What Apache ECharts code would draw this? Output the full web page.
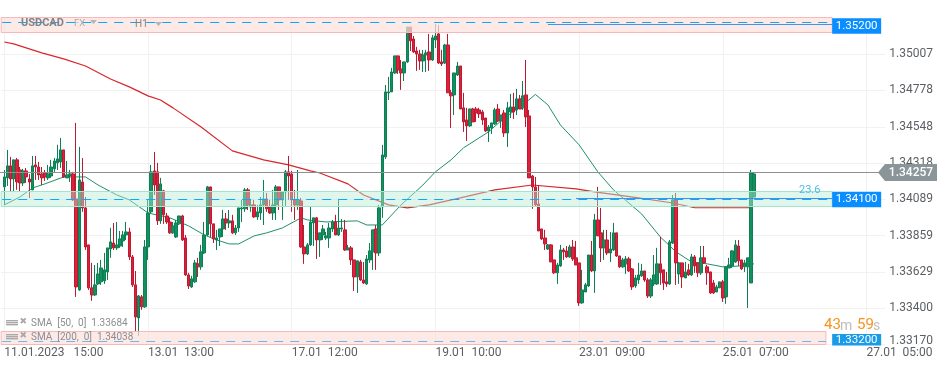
<!DOCTYPE html>
<html><head><meta charset="utf-8">
<script src="https://cdn.jsdelivr.net/npm/echarts@6/dist/echarts.min.js"></script>
<style>html,body{margin:0;padding:0;background:#fff}#c{width:949px;height:370px}</style>
</head><body><div id="c"></div>
<script>
const opens=[
1.34168,1.34225,1.34301,1.34218,1.34339,1.34275,1.34193,1.34269,1.34218,1.34149,
1.34307,1.34294,1.34250,1.34256,1.34225,1.34237,1.34282,1.34320,1.34326,1.34402,
1.34225,1.34237,1.34250,1.34092,1.33516,1.34199,1.34035,1.33801,1.33529,1.33484,
1.33554,1.33567,1.33573,1.33630,1.33775,1.33813,1.33782,1.33794,1.33826,1.33864,
1.33883,1.33725,1.33548,1.33339,1.33472,1.33409,1.33788,1.34010,1.34269,1.34263,
1.33953,1.34143,1.33984,1.33946,1.33877,1.33851,1.33934,1.33984,1.33845,1.33611,
1.33535,1.33567,1.33681,1.33662,1.33750,1.33864,1.34168,1.33934,1.33832,1.33851,
1.33902,1.33965,1.33940,1.33953,1.33877,1.33908,1.34029,1.34029,1.34149,1.34041,
1.34054,1.33978,1.34003,1.34054,1.34092,1.34041,1.34003,1.34054,1.34168,1.34086,
1.34136,1.34263,1.34250,1.34086,1.34054,1.34079,1.33788,1.33744,1.33801,1.33940,
1.33972,1.33832,1.33864,1.33845,1.33845,1.33902,1.33946,1.33864,1.33902,1.33896,
1.33769,1.33782,1.33706,1.33598,1.33693,1.33579,1.33554,1.33706,1.33757,1.33902,
1.33750,1.34041,1.34358,1.34763,1.34769,1.34889,1.34997,1.34914,1.34889,1.34959,
1.35180,1.35104,1.35028,1.35009,1.34965,1.35003,1.35022,1.34971,1.35098,1.35136,
1.34959,1.34952,1.35066,1.34763,1.34750,1.34876,1.34933,1.34668,1.34592,1.34554,
1.34661,1.34661,1.34655,1.34642,1.34604,1.34522,1.34541,1.34566,1.34661,1.34585,
1.34636,1.34509,1.34642,1.34674,1.34655,1.34725,1.34668,1.34750,1.34617,1.34237,
1.34168,1.34060,1.33902,1.33845,1.33775,1.33801,1.33706,1.33624,1.33668,1.33769,
1.33763,1.33725,1.33788,1.33719,1.33687,1.33434,1.33503,1.33541,1.33737,1.33636,
1.33959,1.33877,1.33782,1.33832,1.33750,1.33769,1.33877,1.33731,1.33662,1.33681,
1.33712,1.33649,1.33541,1.33579,1.33605,1.33636,1.33579,1.33478,1.33554,1.33554,
1.33681,1.33643,1.33567,1.33554,1.33813,1.34086,1.33617,1.33687,1.33592,1.33643,
1.33611,1.33725,1.33687,1.33624,1.33719,1.33662,1.33630,1.33560,1.33503,1.33529,
1.33567,1.33472,1.33655,1.33668,1.33693,1.33794,1.33706,1.33662,1.33662,1.33560,1.34104];
const closes=[
1.34231,1.34301,1.34218,1.34339,1.34199,1.34193,1.34269,1.34231,1.34199,1.34301,
1.34294,1.34244,1.34225,1.34231,1.34250,1.34294,1.34332,1.34345,1.34402,1.34231,
1.34244,1.34250,1.34086,1.33535,1.34212,1.34035,1.33788,1.33529,1.33484,1.33548,
1.33617,1.33655,1.33643,1.33782,1.33820,1.33782,1.33801,1.33839,1.33864,1.33883,
1.33725,1.33548,1.33345,1.33478,1.33409,1.33788,1.34003,1.34263,1.34180,1.33953,
1.34187,1.33991,1.33946,1.33877,1.33921,1.33940,1.33984,1.33832,1.33611,1.33541,
1.33586,1.33687,1.33662,1.33757,1.33864,1.34168,1.33934,1.33839,1.33845,1.33902,
1.33965,1.33940,1.33953,1.33877,1.33908,1.34035,1.34035,1.34149,1.34054,1.34054,
1.33978,1.34010,1.34054,1.34092,1.34029,1.34003,1.34054,1.34168,1.34086,1.34136,
1.34263,1.34237,1.34086,1.34054,1.34086,1.33788,1.33744,1.33801,1.33946,1.33972,
1.33832,1.33877,1.33902,1.33858,1.33908,1.33946,1.33864,1.33908,1.33908,1.33769,
1.33782,1.33706,1.33598,1.33700,1.33579,1.33560,1.33712,1.33763,1.33896,1.33750,
1.34035,1.34370,1.34769,1.34769,1.34895,1.34997,1.34908,1.34889,1.34959,1.35180,
1.35092,1.35022,1.35009,1.34965,1.35003,1.35016,1.34971,1.35111,1.35123,1.34952,
1.34946,1.35066,1.34763,1.34744,1.34889,1.34933,1.34661,1.34579,1.34554,1.34661,
1.34579,1.34636,1.34630,1.34592,1.34522,1.34547,1.34573,1.34655,1.34585,1.34623,
1.34509,1.34668,1.34674,1.34642,1.34725,1.34661,1.34744,1.34611,1.34225,1.34168,
1.34054,1.33889,1.33839,1.33807,1.33801,1.33693,1.33624,1.33674,1.33769,1.33757,
1.33725,1.33788,1.33712,1.33674,1.33434,1.33516,1.33548,1.33737,1.33636,1.33959,
1.33858,1.33782,1.33832,1.33750,1.33775,1.33877,1.33731,1.33662,1.33706,1.33712,
1.33636,1.33535,1.33592,1.33611,1.33636,1.33579,1.33478,1.33579,1.33611,1.33681,
1.33624,1.33560,1.33554,1.33820,1.34086,1.33687,1.33687,1.33598,1.33630,1.33611,
1.33725,1.33668,1.33624,1.33719,1.33687,1.33624,1.33497,1.33497,1.33535,1.33567,
1.33465,1.33662,1.33674,1.33763,1.33801,1.33700,1.33649,1.33687,1.33719,1.34256,1.34250];
const highs=[
1.34275,1.34402,1.34358,1.34339,1.34351,1.34294,1.34282,1.34288,1.34250,1.34364,
1.34364,1.34326,1.34294,1.34275,1.34307,1.34339,1.34351,1.34434,1.34478,1.34402,
1.34332,1.34275,1.34263,1.34573,1.34421,1.34351,1.34104,1.33801,1.33687,1.33674,
1.33687,1.33706,1.33750,1.33782,1.33909,1.33940,1.33946,1.33889,1.33889,1.33946,
1.33909,1.33737,1.33636,1.33484,1.33484,1.33832,1.34086,1.34307,1.34389,1.34320,
1.34225,1.34149,1.34003,1.33972,1.33946,1.33959,1.33984,1.33991,1.33864,1.33624,
1.33605,1.33706,1.33719,1.33801,1.33946,1.34174,1.34168,1.33934,1.33896,1.33902,
1.34022,1.34003,1.34022,1.33991,1.33927,1.34035,1.34086,1.34161,1.34161,1.34086,
1.34086,1.34054,1.34104,1.34212,1.34130,1.34086,1.34149,1.34180,1.34168,1.34136,
1.34275,1.34364,1.34269,1.34149,1.34275,1.34098,1.33927,1.33813,1.34041,1.33972,
1.33978,1.33877,1.33927,1.33883,1.33940,1.33959,1.33991,1.34092,1.33965,1.33959,
1.33801,1.33794,1.33706,1.33700,1.33706,1.33693,1.33737,1.33813,1.33896,1.33927,
1.34054,1.34434,1.34813,1.34864,1.34921,1.34997,1.34997,1.34971,1.34959,1.35180,
1.35180,1.35123,1.35054,1.35035,1.35035,1.35035,1.35136,1.35130,1.35199,1.35193,
1.35035,1.35073,1.35136,1.34782,1.34889,1.34959,1.34933,1.34763,1.34668,1.34661,
1.34668,1.34674,1.34668,1.34655,1.34604,1.34560,1.34573,1.34668,1.34693,1.34623,
1.34655,1.34706,1.34756,1.34763,1.34788,1.34750,1.34838,1.34971,1.34655,1.34244,
1.34231,1.34180,1.33902,1.33896,1.33807,1.33807,1.33706,1.33687,1.33801,1.33782,
1.33794,1.33801,1.33832,1.33826,1.33687,1.33643,1.33560,1.33737,1.33826,1.33997,
1.34168,1.34035,1.33896,1.33896,1.33883,1.33940,1.33877,1.33731,1.33719,1.33731,
1.33725,1.33655,1.33611,1.33687,1.33681,1.33636,1.33592,1.33592,1.33737,1.33782,
1.33851,1.33643,1.33630,1.33832,1.34117,1.34130,1.33693,1.33687,1.33693,1.33681,
1.33744,1.33737,1.33687,1.33794,1.33794,1.33674,1.33630,1.33579,1.33548,1.33567,
1.33579,1.33662,1.33719,1.33769,1.33832,1.33832,1.33706,1.33706,1.33719,1.34275,1.34256];
const lows=[
1.34054,1.34174,1.34136,1.34136,1.34149,1.34136,1.34174,1.34193,1.34098,1.34149,
1.34212,1.34212,1.34180,1.34206,1.34212,1.34225,1.34263,1.34275,1.34288,1.34225,
1.34225,1.34199,1.34079,1.33472,1.33510,1.34010,1.33769,1.33516,1.33447,1.33478,
1.33548,1.33548,1.33554,1.33579,1.33719,1.33769,1.33769,1.33782,1.33788,1.33832,
1.33706,1.33535,1.33250,1.33225,1.33390,1.33402,1.33706,1.34003,1.34117,1.33927,
1.33934,1.33934,1.33934,1.33870,1.33870,1.33845,1.33927,1.33826,1.33605,1.33522,
1.33529,1.33560,1.33598,1.33643,1.33744,1.33858,1.33851,1.33813,1.33769,1.33794,
1.33851,1.33896,1.33908,1.33870,1.33864,1.33883,1.33946,1.34010,1.34022,1.34010,
1.33972,1.33959,1.33959,1.33927,1.34010,1.33997,1.33959,1.33959,1.34022,1.33959,
1.34041,1.34086,1.34010,1.33959,1.34022,1.33782,1.33681,1.33737,1.33794,1.33794,
1.33712,1.33725,1.33832,1.33832,1.33782,1.33883,1.33864,1.33858,1.33883,1.33763,
1.33769,1.33674,1.33510,1.33497,1.33573,1.33554,1.33548,1.33687,1.33643,1.33643,
1.33731,1.33972,1.34345,1.34718,1.34769,1.34883,1.34883,1.34782,1.34838,1.34952,
1.35028,1.35016,1.34902,1.34908,1.34895,1.34895,1.34902,1.34965,1.35047,1.34946,
1.34933,1.34946,1.34763,1.34541,1.34623,1.34870,1.34661,1.34516,1.34459,1.34547,
1.34579,1.34579,1.34604,1.34560,1.34516,1.34452,1.34503,1.34560,1.34579,1.34541,
1.34484,1.34421,1.34604,1.34598,1.34623,1.34661,1.34655,1.34547,1.34225,1.34029,
1.34048,1.33889,1.33832,1.33769,1.33769,1.33693,1.33617,1.33554,1.33662,1.33706,
1.33719,1.33719,1.33700,1.33674,1.33415,1.33428,1.33503,1.33535,1.33630,1.33497,
1.33858,1.33693,1.33706,1.33737,1.33693,1.33763,1.33725,1.33655,1.33655,1.33617,
1.33630,1.33516,1.33529,1.33554,1.33598,1.33567,1.33465,1.33465,1.33541,1.33548,
1.33548,1.33516,1.33535,1.33548,1.33807,1.33548,1.33554,1.33529,1.33592,1.33605,
1.33605,1.33624,1.33598,1.33611,1.33681,1.33548,1.33491,1.33491,1.33503,1.33529,
1.33440,1.33428,1.33655,1.33655,1.33687,1.33668,1.33643,1.33630,1.33402,1.33560,1.34104];

const sma200Index=[1,4,13,20,27,35,41,47,51,55,64,74,84,92,99,102,111,116,124,130,137,147,158,170,184,190,204,215,222,240];
const sma200Price=[1.35085,1.35073,1.35016,1.34978,1.34933,1.34851,1.34801,1.34744,1.34718,1.34668,1.34547,1.34396,1.34339,1.34307,1.34269,1.34256,1.34187,1.34117,1.34054,1.34035,1.34054,1.34098,1.34149,1.34180,1.34155,1.34136,1.34098,1.34066,1.34036,1.34036];
const sma50Index=[1,6,10,14,20,27,31,37,41,47,54,60,65,69,73,76,81,85,90,96,98,104,114,117,122,128,135,139,144,148,156,161,167,171,175,179,185,191,196,205,211,216,221,226,231,237,241];
const sma50Price=[1.34054,1.34104,1.34161,1.34187,1.34231,1.34231,1.34180,1.34117,1.34086,1.34003,1.33972,1.33921,1.33864,1.33832,1.33807,1.33807,1.33858,1.33877,1.33908,1.33972,1.33959,1.33946,1.33953,1.33927,1.33927,1.34054,1.34180,1.34263,1.34339,1.34415,1.34516,1.34604,1.34687,1.34753,1.34687,1.34560,1.34434,1.34263,1.34149,1.33997,1.33851,1.33757,1.33693,1.33681,1.33662,1.33668,1.33681];

const yTicks=[1.33170,1.33400,1.33629,1.33859,1.34089,1.34318,1.34548,1.34778,1.35007];
const tickIndex=[1,47,93,139,185,231,277];
const tickLabels=['11.01.2023   15:00','13.01  13:00','17.01  12:00','19.01  10:00','23.01  09:00','25.01  07:00','27.01  05:00'];

const zoneTop=[1.35237,1.34136,1.33250];
const zoneBottom=[1.35139,1.34041,1.33170];
const zoneEnd=[266,266,264];
const levelDash=[1.35208,1.34088,1.33192];
const levelBox=[1.35188,1.34089,1.33205];
const levelText=['1.35200','1.34100','1.33200'];
const blueLevel=[1.35194,1.34095];
const blueFrom=[175,184];
const lastPrice=1.34257;
const categoryCount=284;

const categories=Array.from({length:categoryCount},(_,i)=>{const k=tickIndex.indexOf(i);return k>=0?tickLabels[k]:String(i);});
const candleRows=[['-','-','-','-']].concat(opens.map((o,i)=>[o,closes[i],lows[i],highs[i]]));
const isTick=i=>tickIndex.indexOf(i)>=0;
const crisp=v=>Math.round(v-0.5)+0.5;

const chart=echarts.init(document.getElementById('c'),null,{renderer:'canvas'});
const grayText='#8b8f92';
function smaIcon(y){
  return {type:'group',children:[0,2,4].map(d=>({type:'rect',shape:{x:6,y:y+d,width:12,height:1.4},style:{fill:'#a9a9a9'},z:20})).concat([
    {type:'text',style:{x:19.5,y:y-3,text:'\u2716',fill:'#a9a9a9',font:'9px "DejaVu Sans"'},z:20}])};
}
chart.setOption({
  animation:false,
  backgroundColor:'#fff',
  textStyle:{fontFamily:'Roboto'},
  grid:{left:1.18,top:18,width:884.09,height:326.6,containLabel:false},
  tooltip:{show:false},
  xAxis:{type:'category',data:categories,boundaryGap:false,
    axisLine:{show:false},axisTick:{show:false},
    axisLabel:{interval:(i)=>isTick(i),align:'left',color:'#5b5f63',fontSize:12,fontFamily:'Roboto',margin:2,hideOverlap:false,showMaxLabel:true,showMinLabel:true},
    splitLine:{show:true,interval:(i)=>isTick(i),lineStyle:{color:'#f1f1f1',width:1}}},
  yAxis:{type:'value',position:'right',min:1.33170,max:1.352367,scale:true,
    axisLine:{show:false},axisTick:{show:false,customValues:yTicks},
    axisLabel:{customValues:yTicks,
      formatter:v=>{const s=Number(v).toFixed(5);return Number(v)===yTicks[0]?'{low|'+s+'}':s;},
      rich:{low:{color:'#5b5f63',fontSize:12,fontFamily:'Roboto',padding:[0,0,7,0]}},
      color:'#5b5f63',fontSize:12,fontFamily:'Roboto',margin:4},
    splitLine:{show:true,lineStyle:{color:'#f1f1f1',width:1}}},
  series:[
    {type:'candlestick',name:'USDCAD',data:candleRows,z:2,barWidth:3,clip:false,
     itemStyle:{color:'#12905f',color0:'#e0203a',borderColor:'#0e7f55',borderColor0:'#bc1a31',borderWidth:1}},
    {type:'line',name:'SMA 200',data:sma200Index.map((x,i)=>[x,sma200Price[i]]),showSymbol:false,z:2,lineStyle:{color:'#d9262b',width:1.2},clip:false},
    {type:'line',name:'SMA 50',data:sma50Index.map((x,i)=>[x,sma50Price[i]]),showSymbol:false,z:2,lineStyle:{color:'#1f8f6b',width:1},clip:false},
    {type:'custom',name:'zones',z:3,clip:false,silent:true,data:zoneTop.map((p,i)=>[0,p]),
     renderItem:(params,api)=>{
       const i=params.dataIndex;
       const a=api.coord([0,zoneTop[i]]), b=api.coord([zoneEnd[i],zoneBottom[i]]);
       const pink=i!==1;
       return {type:'rect',shape:{x:a[0],y:crisp(a[1]),width:b[0]-a[0],height:Math.round(b[1]-a[1])},
         style:{fill:pink?'rgba(252,225,220,0.72)':'rgba(185,236,215,0.45)',stroke:pink?'#f6b9b9':'#a4e4c8',lineWidth:1}};
     }},
    {type:'custom',name:'levels',z:4,clip:false,silent:true,data:levelDash.map((p,i)=>[0,p]),
     renderItem:(params,api)=>{
       const i=params.dataIndex;
       const a=api.coord([0,levelDash[i]]), b=api.coord([zoneEnd[i],levelDash[i]]), box=api.coord([266,levelBox[i]]);
       const kids=[{type:'line',shape:{x1:a[0]+1,y1:crisp(a[1]),x2:b[0],y2:crisp(a[1])},
         style:{stroke:i===2?'rgba(60,170,235,0.75)':'#0ba8fb',lineWidth:1,lineDash:[9,7]}}];
       if(i<2){
         const s=api.coord([blueFrom[i],blueLevel[i]]), e=api.coord([266,blueLevel[i]]);
         kids.push({type:'line',shape:{x1:s[0],y1:crisp(s[1]),x2:e[0],y2:crisp(s[1])},style:{stroke:'#3e92ea',lineWidth:1}});
       }
       const h=i===2?11.5:15.5, t=i===2?box[1]-5:box[1]-7.5;
       kids.push({type:'rect',shape:{x:box[0],y:t,width:49,height:h},style:{fill:i===2?'#1a9be8':'#0a8dff'}});
       kids.push({type:'text',style:{x:box[0]+24.5,y:t+h/2,text:levelText[i],fill:'#fff',font:'11.5px Roboto',textAlign:'center',textVerticalAlign:'middle'}});
       return {type:'group',children:kids};
     }},
    {type:'custom',name:'last price',z:5,clip:false,silent:true,data:[[0,lastPrice]],
     renderItem:(params,api)=>{
       const a=api.coord([0,lastPrice]), y=crisp(a[1]);
       return {type:'group',children:[
         {type:'line',shape:{x1:0,y1:y,x2:879,y2:y},style:{stroke:'#8b9191',lineWidth:1}},
         {type:'polygon',shape:{points:[[878,y],[885,y-8.5],[937,y-8.5],[937,y+8.5],[885,y+8.5]]},style:{fill:'#8a9599'}},
         {type:'text',style:{x:911,y:y,text:lastPrice.toFixed(5),fill:'#fff',font:'500 12px Roboto',textAlign:'center',textVerticalAlign:'middle'}}
       ]};
     }}
  ],
  graphic:[
    {type:'text',z:20,style:{x:21,y:18,text:'USDCAD',fill:'#808488',font:'bold 11px Roboto'}},
    {type:'text',z:20,style:{x:74,y:19,text:'FX',fill:'#a8acae',font:'9.5px Roboto'}},
    {type:'polygon',z:20,shape:{points:[[90,20],[97,20],[93.5,24]]},style:{fill:'#b5b5b5'}},
    {type:'text',z:20,style:{x:135,y:19,text:'H1',fill:'#808488',font:'10px Roboto'}},
    {type:'polygon',z:20,shape:{points:[[155,22],[162,22],[158.5,26]]},style:{fill:'#b5b5b5'}},
    smaIcon(320),smaIcon(334),
    {type:'text',z:20,style:{x:31,y:318,text:'SMA  [50,  0]  1.33684',fill:grayText,font:'10px Roboto'}},
    {type:'text',z:20,style:{x:31,y:332,text:'SMA  [200,  0]  1.34038',fill:grayText,font:'10px Roboto'}},
    {type:'text',z:20,style:{x:799,y:185,text:'23.6',fill:'#4db9f2',font:'11px Roboto'}},
    {type:'text',z:20,style:{x:824,y:318,text:'43',fill:'#f7931e',font:'15px Roboto'}},
    {type:'text',z:20,style:{x:840,y:319,text:'m',fill:'#bdbdbd',font:'14px Roboto'}},
    {type:'text',z:20,style:{x:857,y:318,text:'59',fill:'#f7931e',font:'15px Roboto'}},
    {type:'text',z:20,style:{x:873,y:319,text:'s',fill:'#bdbdbd',font:'14px Roboto'}}
  ]
});
</script></body></html>
